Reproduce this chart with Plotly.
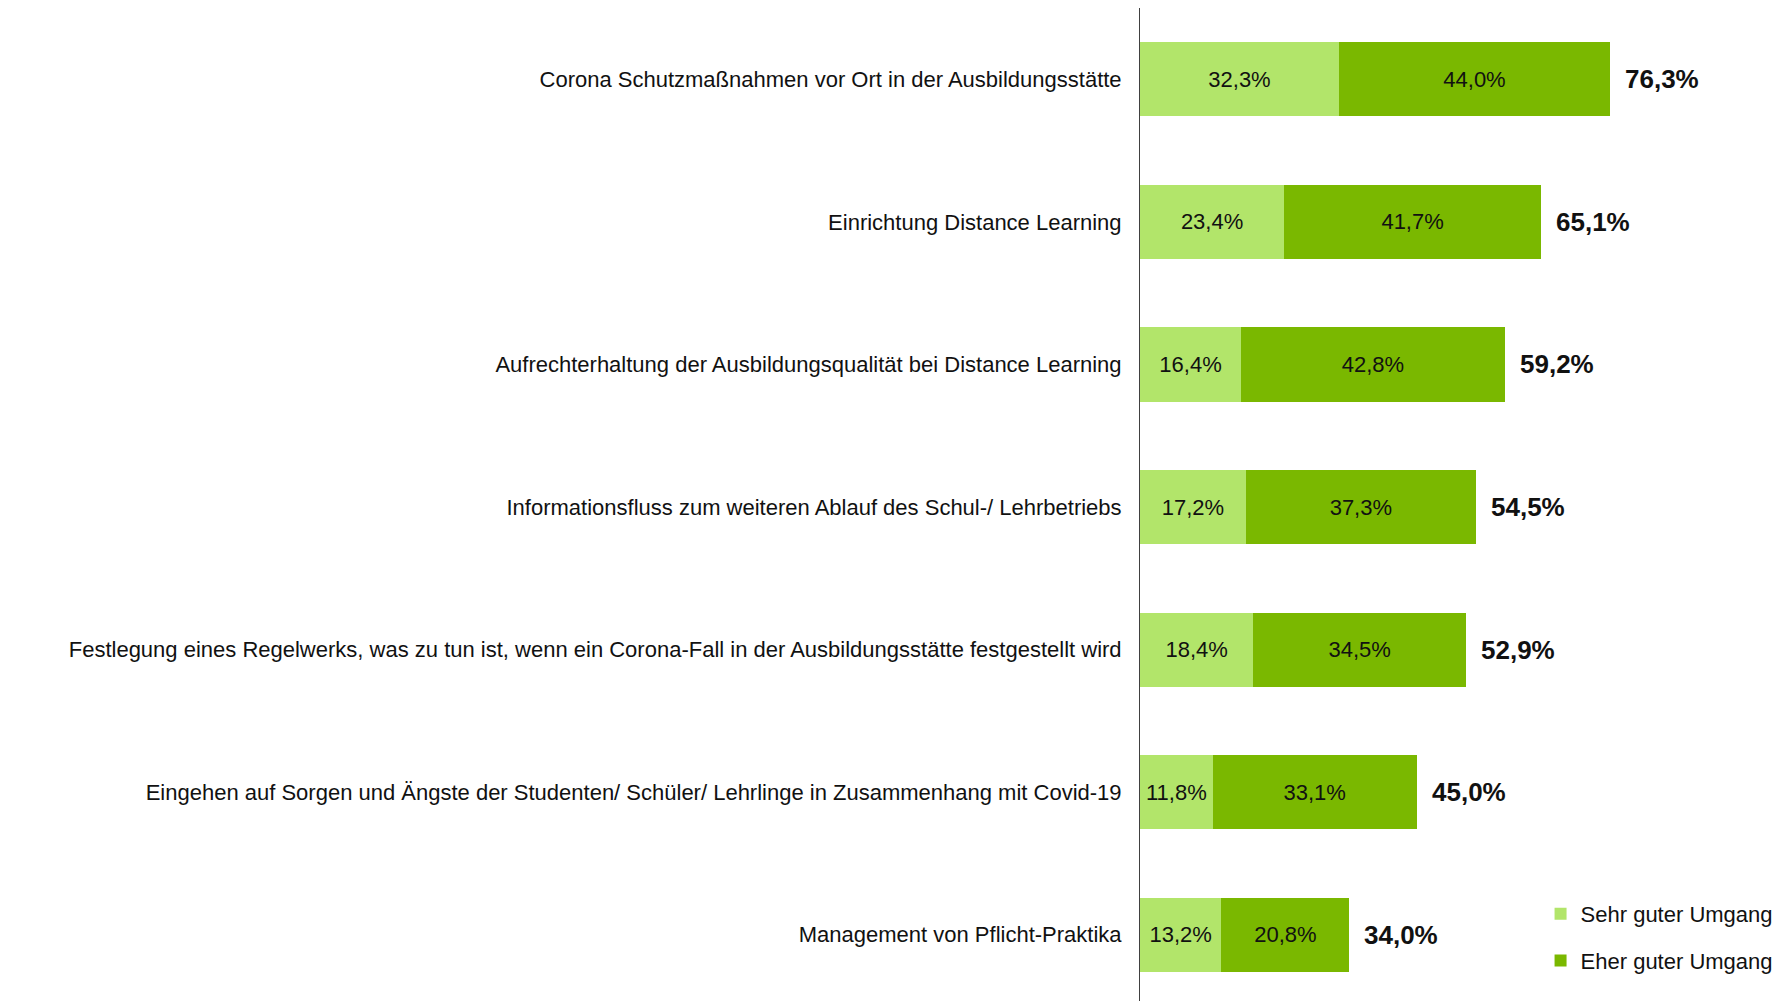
import plotly.graph_objects as go

categories = [
    "Corona Schutzmaßnahmen vor Ort in der Ausbildungsstätte",
    "Einrichtung Distance Learning",
    "Aufrechterhaltung der Ausbildungsqualität bei Distance Learning",
    "Informationsfluss zum weiteren Ablauf des Schul-/ Lehrbetriebs",
    "Festlegung eines Regelwerks, was zu tun ist, wenn ein Corona-Fall in der Ausbildungsstätte festgestellt wird",
    "Eingehen auf Sorgen und Ängste der Studenten/ Schüler/ Lehrlinge in Zusammenhang mit Covid-19",
    "Management von Pflicht-Praktika",
]
sehr_gut = [32.3, 23.4, 16.4, 17.2, 18.4, 11.8, 13.2]
eher_gut = [44.0, 41.7, 42.8, 37.3, 34.5, 33.1, 20.8]
totals = [76.3, 65.1, 59.2, 54.5, 52.9, 45.0, 34.0]

FONT = "Liberation Sans, Arial, sans-serif"

fig = go.Figure()
fig.add_trace(go.Bar(
    y=categories, x=sehr_gut, orientation="h", name="Sehr guter Umgang",
    marker=dict(color="#B2E56A", line=dict(width=0)), legendgroup="a",
    texttemplate="%{x:.1f}%", textposition="inside", insidetextanchor="middle",
    textfont=dict(size=22, color="#111111", family=FONT), hoverinfo="skip",
))
fig.add_trace(go.Bar(
    y=categories, x=eher_gut, orientation="h", name="Eher guter Umgang",
    marker=dict(color="#7AB800", line=dict(width=0)), legendgroup="b",
    texttemplate="%{x:.1f}%", textposition="inside", insidetextanchor="middle",
    textfont=dict(size=22, color="#111111", family=FONT), hoverinfo="skip",
))

# bold totals right of each bar
for cat, tot in zip(categories, totals):
    fig.add_annotation(
        x=tot, y=cat, text=f"<b>{tot:.1f}%</b>".replace(".", ","),
        showarrow=False, xanchor="left", xshift=13,
        font=dict(size=26, color="#111111", family=FONT),
    )

fig.update_layout(
    barmode="stack",
    bargap=0.48,
    width=1787, height=1001,
    margin=dict(l=1132, r=39, t=0, b=3),
    paper_bgcolor="white", plot_bgcolor="white",
    separators=",.",
    font=dict(family=FONT, size=22, color="#111111"),
    legend=dict(
        x=1.035, xanchor="right", y=0.024, yanchor="bottom",
        font=dict(size=22, family=FONT), tracegroupgap=15,
        bgcolor="rgba(0,0,0,0)",
    ),
    xaxis=dict(range=[0, 100], visible=False, fixedrange=True),
    yaxis=dict(
        autorange="reversed", showline=True, linecolor="#404040", linewidth=1,
        ticks="", ticklabelstandoff=13, showgrid=False,
        tickfont=dict(size=22, family=FONT, color="#111111"),
    ),
    showlegend=True,
)

fig.write_html("out.html")
